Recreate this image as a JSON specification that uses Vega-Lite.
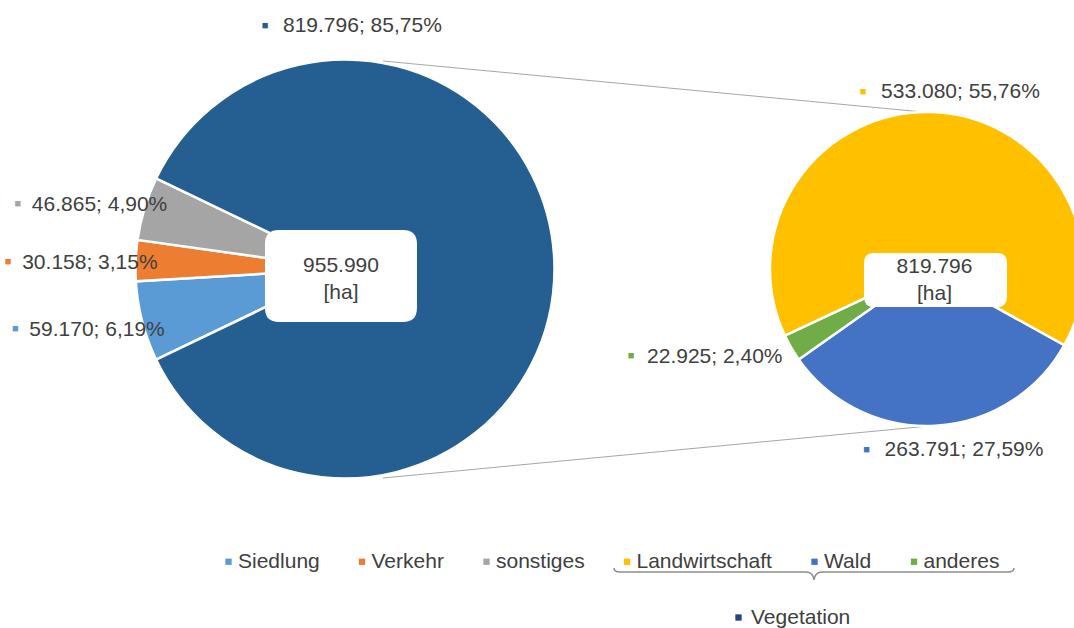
{
  "$schema": "https://vega.github.io/schema/vega-lite/v6.json",
  "width": 1074,
  "height": 628,
  "autosize": "none",
  "padding": 0,
  "background": "white",
  "config": {
    "view": {"stroke": null},
    "font": "Liberation Sans",
    "text": {"fontSize": 21, "color": "#404040"}
  },
  "datasets": {
    "flaechen": [
      {"pie": "Gesamt", "cat": "Siedlung", "ord": 1, "value": 59170, "label": "59.170; 6,19%"},
      {"pie": "Gesamt", "cat": "Verkehr", "ord": 2, "value": 30158, "label": "30.158; 3,15%"},
      {"pie": "Gesamt", "cat": "sonstiges", "ord": 3, "value": 46865, "label": "46.865; 4,90%"},
      {"pie": "Gesamt", "cat": "Vegetation", "ord": 4, "value": 819796, "label": "819.796; 85,75%"},
      {"pie": "Vegetation", "cat": "Wald", "ord": 1, "value": 263791, "label": "263.791; 27,59%"},
      {"pie": "Vegetation", "cat": "anderes", "ord": 2, "value": 22925, "label": "22.925; 2,40%"},
      {"pie": "Vegetation", "cat": "Landwirtschaft", "ord": 3, "value": 533080, "label": "533.080; 55,76%"}
    ],
    "summen": [
      {"pie": "Gesamt", "zeilen": "955.990\n[ha]"},
      {"pie": "Vegetation", "zeilen": "819.796\n[ha]"}
    ]
  },
  "encoding": {
    "x": {"field": "pie", "type": "nominal", "axis": null,
          "scale": {"type": "point", "domain": ["Gesamt", "Vegetation"], "padding": 0.42268, "align": 0.70122}},
    "y": {"datum": 0, "type": "quantitative", "axis": null,
          "scale": {"domain": [-1.7218, 1.2902], "nice": false, "zero": false}}
  },
  "layer": [
    {
      "data": {"values": [{}]},
      "mark": {"type": "rule", "color": "#a6a6a6", "strokeWidth": 1, "xOffset": 38, "x2Offset": -4},
      "encoding": {
        "x": {"datum": "Gesamt", "type": "nominal"},
        "x2": {"datum": "Vegetation"},
        "y": {"datum": 0.9976, "type": "quantitative"},
        "y2": {"datum": 0.753}
      }
    },
    {
      "data": {"values": [{}]},
      "mark": {"type": "rule", "color": "#a6a6a6", "strokeWidth": 1, "xOffset": 38, "x2Offset": 2},
      "encoding": {
        "x": {"datum": "Gesamt", "type": "nominal"},
        "x2": {"datum": "Vegetation"},
        "y": {"datum": -1.0024, "type": "quantitative"},
        "y2": {"datum": -0.753}
      }
    },
    {
      "data": {"name": "flaechen"},
      "transform": [{"filter": "datum.pie === 'Gesamt'"}],
      "mark": {"type": "arc", "outerRadius": 209.5, "stroke": "white", "strokeWidth": 2.5},
      "encoding": {
        "theta": {"field": "value", "type": "quantitative", "stack": true,
                  "scale": {"domain": [0, 955990], "range": [4.26474, 10.54793]}},
        "order": {"field": "ord", "type": "quantitative"},
        "color": {
          "field": "cat", "type": "nominal",
          "scale": {
            "domain": ["Siedlung", "Verkehr", "sonstiges", "Landwirtschaft", "Wald", "anderes", "Vegetation"],
            "range": ["#5B9BD5", "#ED7D31", "#A5A5A5", "#FFC000", "#4472C4", "#70AD47", "#255E91"]
          },
          "legend": {
            "title": null, "orient": "none", "legendX": 218, "legendY": 551, "direction": "horizontal",
            "values": ["Siedlung", "Verkehr", "sonstiges", "Landwirtschaft", "Wald", "anderes"],
            "symbolType": "square", "symbolSize": 40, "symbolStrokeWidth": 0, "symbolOpacity": 1,
            "labelFontSize": 21, "labelFont": "Liberation Sans", "labelColor": "#404040",
            "columnPadding": 31.5, "labelOffset": -1
          }
        }
      }
    },
    {
      "data": {"name": "flaechen"},
      "transform": [{"filter": "datum.pie === 'Vegetation'"}],
      "mark": {"type": "arc", "outerRadius": 157, "stroke": "white", "strokeWidth": 2.5},
      "encoding": {
        "theta": {"field": "value", "type": "quantitative", "stack": true,
                  "scale": {"domain": [0, 819796], "range": [2.07694, 8.36013]}},
        "order": {"field": "ord", "type": "quantitative"},
        "color": {"field": "cat", "type": "nominal"}
      }
    },
    {
      "data": {"name": "flaechen"},
      "transform": [{"filter": "datum.cat === 'Vegetation'"}],
      "mark": {"type": "point", "filled": true, "color": "#264478", "size": 30},
      "encoding": {
        "shape": {
          "field": "cat", "type": "nominal",
          "scale": {"domain": ["Vegetation"], "range": ["square"]},
          "legend": {
            "title": null, "orient": "none", "legendX": 728, "legendY": 607,
            "symbolSize": 40, "symbolFillColor": "#264478", "symbolStrokeWidth": 0, "symbolOpacity": 1,
            "labelFontSize": 21, "labelFont": "Liberation Sans", "labelColor": "#404040", "labelOffset": 2
          }
        }
      }
    },
    {
      "data": {"name": "summen"},
      "transform": [{"filter": "datum.pie === 'Gesamt'"}],
      "mark": {"type": "point", "filled": true, "color": "white", "opacity": 1, "size": 23104,
               "shape": "M -0.869 -0.513 L 0.763 -0.513 Q 0.947 -0.513 0.947 -0.329 L 0.947 0.513 Q 0.947 0.697 0.763 0.697 L -0.869 0.697 Q -1.053 0.697 -1.053 0.513 L -1.053 -0.329 Q -1.053 -0.513 -0.869 -0.513 Z"}
    },
    {
      "data": {"name": "summen"},
      "transform": [{"filter": "datum.pie === 'Vegetation'"}],
      "mark": {"type": "point", "filled": true, "color": "white", "opacity": 1, "size": 20449,
               "shape": "M -0.741 -0.224 L 0.979 -0.224 Q 1.119 -0.224 1.119 -0.084 L 1.119 0.392 Q 1.119 0.532 0.979 0.532 L -0.741 0.532 Q -0.881 0.532 -0.881 0.392 L -0.881 -0.084 Q -0.881 -0.224 -0.741 -0.224 Z"}
    },
    {
      "data": {"name": "summen"},
      "transform": [{"filter": "datum.pie === 'Gesamt'"}],
      "mark": {"type": "text", "lineBreak": "\n", "lineHeight": 26.5, "dx": -4, "dy": -2.75, "align": "center", "baseline": "middle"},
      "encoding": {"text": {"field": "zeilen", "type": "nominal"}}
    },
    {
      "data": {"name": "summen"},
      "transform": [{"filter": "datum.pie === 'Vegetation'"}],
      "mark": {"type": "text", "lineBreak": "\n", "lineHeight": 26.5, "dx": 7.5, "dy": -1.75, "align": "center", "baseline": "middle"},
      "encoding": {"text": {"field": "zeilen", "type": "nominal"}}
    },
    {
      "data": {"name": "flaechen"},
      "transform": [{"filter": "datum.pie === 'Gesamt'"}],
      "mark": {"type": "text", "radius": 230, "align": "left", "baseline": "middle", "dx": -93, "dy": 3},
      "encoding": {
        "theta": {"field": "value", "type": "quantitative", "stack": true,
                  "scale": {"domain": [0, 955990], "range": [4.26474, 10.54793]}},
        "order": {"field": "ord", "type": "quantitative"},
        "text": {"field": "label", "type": "nominal", "condition": {"test": "datum.cat === 'Vegetation'", "value": ""}}
      }
    },
    {
      "data": {"name": "flaechen"},
      "transform": [{"filter": "datum.pie === 'Gesamt'"}],
      "mark": {"type": "text", "radius": 230, "align": "center", "baseline": "middle", "dx": -107, "dy": 2, "fontSize": 11},
      "encoding": {
        "theta": {"field": "value", "type": "quantitative", "stack": true,
                  "scale": {"domain": [0, 955990], "range": [4.26474, 10.54793]}},
        "order": {"field": "ord", "type": "quantitative"},
        "color": {"field": "cat", "type": "nominal"},
        "text": {"condition": {"test": "datum.cat === 'Vegetation'", "value": ""}, "value": "■"}
      }
    },
    {
      "data": {"name": "flaechen"},
      "transform": [{"filter": "datum.cat === 'Vegetation'"}],
      "mark": {"type": "text", "radius": 243, "theta": 0, "align": "left", "baseline": "middle", "dx": -62},
      "encoding": {"text": {"field": "label", "type": "nominal"}}
    },
    {
      "data": {"name": "flaechen"},
      "transform": [{"filter": "datum.cat === 'Vegetation'"}],
      "mark": {"type": "text", "radius": 243, "theta": 0, "align": "center", "baseline": "middle", "dx": -80, "fontSize": 11},
      "encoding": {"color": {"field": "cat", "type": "nominal"}, "text": {"value": "■"}}
    },
    {
      "data": {"name": "flaechen"},
      "transform": [{"filter": "datum.pie === 'Vegetation'"}],
      "mark": {"type": "text", "radius": 179, "align": "left", "baseline": "middle", "dx": -52, "dy": 2},
      "encoding": {
        "theta": {"field": "value", "type": "quantitative", "stack": true,
                  "scale": {"domain": [0, 819796], "range": [2.07694, 8.36013]}},
        "order": {"field": "ord", "type": "quantitative"},
        "text": {"field": "label", "type": "nominal", "condition": {"test": "datum.cat === 'anderes'", "value": ""}}
      }
    },
    {
      "data": {"name": "flaechen"},
      "transform": [{"filter": "datum.pie === 'Vegetation'"}],
      "mark": {"type": "text", "radius": 179, "align": "center", "baseline": "middle", "dx": -70, "dy": 2, "fontSize": 11},
      "encoding": {
        "theta": {"field": "value", "type": "quantitative", "stack": true,
                  "scale": {"domain": [0, 819796], "range": [2.07694, 8.36013]}},
        "order": {"field": "ord", "type": "quantitative"},
        "color": {"field": "cat", "type": "nominal"},
        "text": {"condition": {"test": "datum.cat === 'anderes'", "value": ""}, "value": "■"}
      }
    },
    {
      "data": {"name": "flaechen"},
      "transform": [{"filter": "datum.pie === 'Vegetation'"}],
      "mark": {"type": "text", "radius": 178, "align": "left", "baseline": "middle", "dx": -126, "dy": -1},
      "encoding": {
        "theta": {"field": "value", "type": "quantitative", "stack": true,
                  "scale": {"domain": [0, 819796], "range": [2.07694, 8.36013]}},
        "order": {"field": "ord", "type": "quantitative"},
        "text": {"field": "label", "type": "nominal", "condition": {"test": "datum.cat !== 'anderes'", "value": ""}}
      }
    },
    {
      "data": {"name": "flaechen"},
      "transform": [{"filter": "datum.pie === 'Vegetation'"}],
      "mark": {"type": "text", "radius": 178, "align": "center", "baseline": "middle", "dx": -142, "dy": -2, "fontSize": 11},
      "encoding": {
        "theta": {"field": "value", "type": "quantitative", "stack": true,
                  "scale": {"domain": [0, 819796], "range": [2.07694, 8.36013]}},
        "order": {"field": "ord", "type": "quantitative"},
        "color": {"field": "cat", "type": "nominal"},
        "text": {"condition": {"test": "datum.cat !== 'anderes'", "value": ""}, "value": "■"}
      }
    },
    {
      "data": {"values": [{}]},
      "mark": {"type": "point", "filled": false, "color": "#8c8c8c", "strokeWidth": 1.5, "opacity": 1, "size": 160000,
               "shape": "M -1 -0.02 Q -1 0 -0.97 0 L -0.04 0 Q -0.005 0 0 0.04 Q 0.005 0 0.04 0 L 0.97 0 Q 1 0 1 -0.02",
               "xOffset": -113},
      "encoding": {
        "x": {"datum": "Vegetation", "type": "nominal"},
        "y": {"datum": -1.4532, "type": "quantitative"}
      }
    }
  ],
  "resolve": {"scale": {"theta": "independent"}}
}
